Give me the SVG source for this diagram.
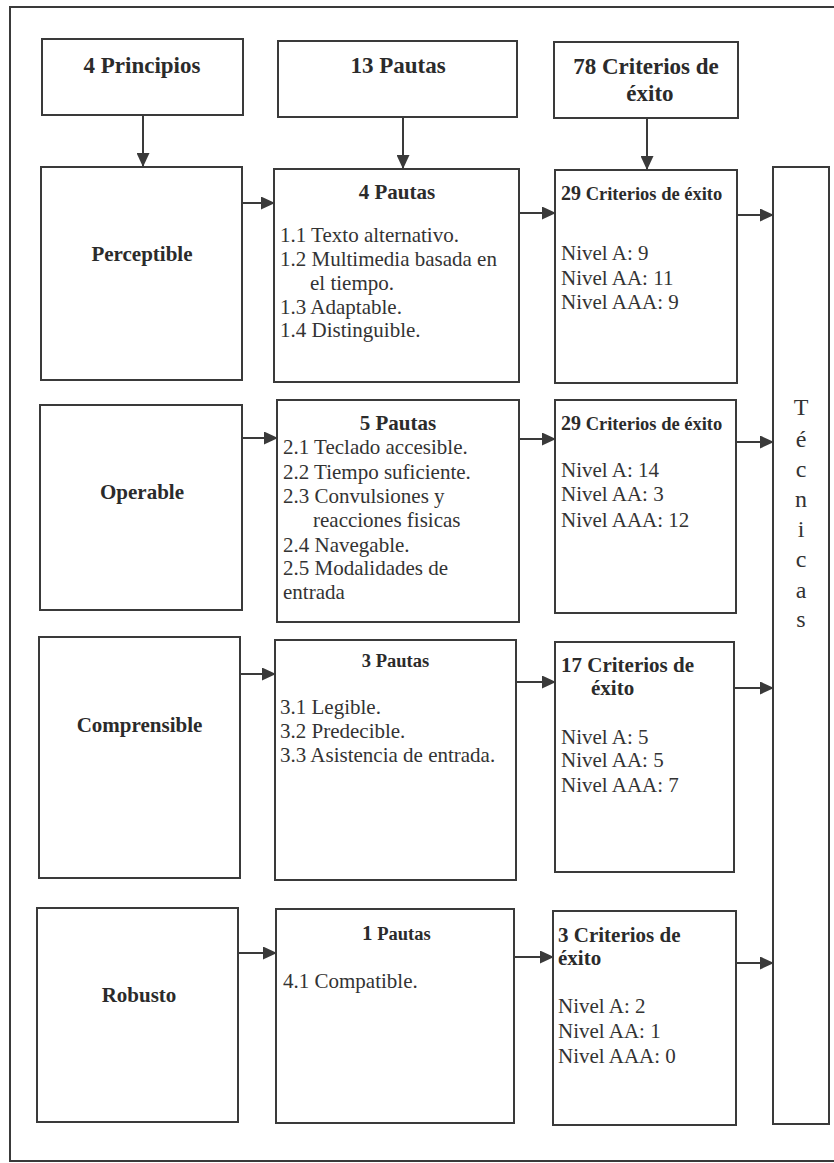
<svg xmlns="http://www.w3.org/2000/svg" width="834" height="1163" viewBox="0 0 834 1163">
<defs>
<style>
.box{fill:#fff;stroke:#3a3a3a;stroke-width:2}
.frame{fill:none;stroke:#3a3a3a;stroke-width:2}
.con{stroke:#3a3a3a;stroke-width:2;fill:none;marker-end:url(#ah)}
.h{font-family:"Liberation Serif",serif;font-weight:bold;font-size:23px;fill:#2b2b2b}
.b{font-family:"Liberation Serif",serif;font-weight:bold;font-size:21px;fill:#2b2b2b}
.bs{font-family:"Liberation Serif",serif;font-weight:bold;font-size:18.5px;fill:#2b2b2b}
.r{font-family:"Liberation Serif",serif;font-size:21px;fill:#333}
.t{font-family:"Liberation Serif",serif;font-size:24px;fill:#333}
.m{text-anchor:middle}
</style>
<marker id="ah" markerUnits="userSpaceOnUse" markerWidth="14" markerHeight="13" refX="14" refY="6.5" orient="auto">
<path d="M0,0 L14,6.5 L0,13 Z" fill="#3a3a3a"/>
</marker>
</defs>
<rect width="834" height="1163" fill="#fff"/>
<rect class="frame" x="10" y="7" width="840" height="1154"/>

<g id="h-principios"><rect class="box" x="42" y="39" width="201" height="76"/><text class="h m" x="142" y="73">4 Principios</text></g>
<g id="h-pautas"><rect class="box" x="278" y="41" width="239" height="76"/><text class="h m" x="398" y="73">13 Pautas</text></g>
<g id="h-criterios"><rect class="box" x="554" y="42" width="184" height="76"/><text class="h m" x="646" y="74">78 Criterios de</text><text class="h m" x="650" y="101">éxito</text></g>

<g id="perceptible"><rect class="box" x="41" y="167" width="201" height="213"/><text class="b m" x="142" y="261">Perceptible</text></g>
<g id="pautas1"><rect class="box" x="274" y="169" width="245" height="213"/><text class="b m" x="397" y="199">4 Pautas</text>
<text class="r" x="280" y="242">1.1 Texto alternativo.</text>
<text class="r" x="280" y="266">1.2 Multimedia basada en</text>
<text class="r" x="310" y="289.5">el tiempo.</text>
<text class="r" x="280" y="313.5">1.3 Adaptable.</text>
<text class="r" x="280" y="337">1.4 Distinguible.</text></g>
<g id="criterios1"><rect class="box" x="555" y="170" width="182" height="213"/><text class="bs" x="561" y="199.5"><tspan font-size="20">29</tspan> Criterios de éxito</text>
<text class="r" x="561" y="260">Nivel A: 9</text>
<text class="r" x="561" y="285">Nivel AA: 11</text>
<text class="r" x="561" y="308.5">Nivel AAA: 9</text></g>

<g id="operable"><rect class="box" x="40" y="405" width="202" height="205"/><text class="b m" x="142" y="499">Operable</text></g>
<g id="pautas2"><rect class="box" x="277" y="400" width="242" height="222"/><text class="b m" x="398" y="430">5 Pautas</text>
<text class="r" x="283" y="454">2.1 Teclado accesible.</text>
<text class="r" x="283" y="478.5">2.2 Tiempo suficiente.</text>
<text class="r" x="283" y="502.5">2.3 Convulsiones y</text>
<text class="r" x="313" y="526.5">reacciones fisicas</text>
<text class="r" x="283" y="551.5">2.4 Navegable.</text>
<text class="r" x="283" y="575">2.5 Modalidades de</text>
<text class="r" x="283" y="598.5">entrada</text></g>
<g id="criterios2"><rect class="box" x="555" y="400" width="181" height="213"/><text class="bs" x="561" y="429.5"><tspan font-size="20">29</tspan> Criterios de éxito</text>
<text class="r" x="561" y="476.5">Nivel A: 14</text>
<text class="r" x="561" y="501">Nivel AA: 3</text>
<text class="r" x="561" y="526.5">Nivel AAA: 12</text></g>

<g id="comprensible"><rect class="box" x="39" y="637" width="201" height="241"/><text class="b m" x="139.5" y="731.5">Comprensible</text></g>
<g id="pautas3"><rect class="box" x="275" y="640" width="241" height="240"/><text class="bs m" x="395.5" y="667">3 Pautas</text>
<text class="r" x="280" y="714">3.1 Legible.</text>
<text class="r" x="280" y="738">3.2 Predecible.</text>
<text class="r" x="280" y="761.5">3.3 Asistencia de entrada.</text></g>
<g id="criterios3"><rect class="box" x="555" y="642" width="179" height="230"/><text class="b" x="561" y="671.5">17 Criterios de</text><text class="b" x="591" y="695">éxito</text>
<text class="r" x="561" y="743.5">Nivel A: 5</text>
<text class="r" x="561" y="767">Nivel AA: 5</text>
<text class="r" x="561" y="791.5">Nivel AAA: 7</text></g>

<g id="robusto"><rect class="box" x="37" y="908" width="201" height="214"/><text class="b m" x="139" y="1002">Robusto</text></g>
<g id="pautas4"><rect class="box" x="276" y="909" width="238" height="214"/><text class="bs" x="362" y="940"><tspan font-size="21">1</tspan> Pautas</text>
<text class="r" x="283" y="988">4.1 Compatible.</text></g>
<g id="criterios4"><rect class="box" x="553" y="911" width="183" height="214"/><text class="b" x="558" y="941.5">3 Criterios de</text><text class="b" x="558" y="965">éxito</text>
<text class="r" x="558" y="1013">Nivel A: 2</text>
<text class="r" x="558" y="1038">Nivel AA: 1</text>
<text class="r" x="558" y="1062.5">Nivel AAA: 0</text></g>

<g id="tecnicas"><rect class="box" x="773" y="167" width="56" height="957"/>
<text class="t m" x="801" y="415">T</text>
<text class="t m" x="801" y="447">é</text>
<text class="t m" x="801" y="477">c</text>
<text class="t m" x="801" y="507">n</text>
<text class="t m" x="801" y="537">i</text>
<text class="t m" x="801" y="567">c</text>
<text class="t m" x="801" y="598">a</text>
<text class="t m" x="801" y="627">s</text></g>

<g id="connectors">
<line class="con" x1="143" y1="115" x2="143" y2="167"/>
<line class="con" x1="403" y1="117" x2="403" y2="169"/>
<line class="con" x1="647" y1="118" x2="647" y2="170"/>
<line class="con" x1="242" y1="203" x2="275" y2="203"/>
<line class="con" x1="519" y1="213" x2="556" y2="213"/>
<line class="con" x1="737" y1="215" x2="774" y2="215"/>
<line class="con" x1="242" y1="438" x2="278" y2="438"/>
<line class="con" x1="519" y1="439" x2="556" y2="439"/>
<line class="con" x1="736" y1="442" x2="774" y2="442"/>
<line class="con" x1="240" y1="674" x2="276" y2="674"/>
<line class="con" x1="516" y1="682" x2="556" y2="682"/>
<line class="con" x1="734" y1="688" x2="774" y2="688"/>
<line class="con" x1="238" y1="953" x2="277" y2="953"/>
<line class="con" x1="514" y1="957" x2="554" y2="957"/>
<line class="con" x1="736" y1="963" x2="774" y2="963"/>
</g>
</svg>
